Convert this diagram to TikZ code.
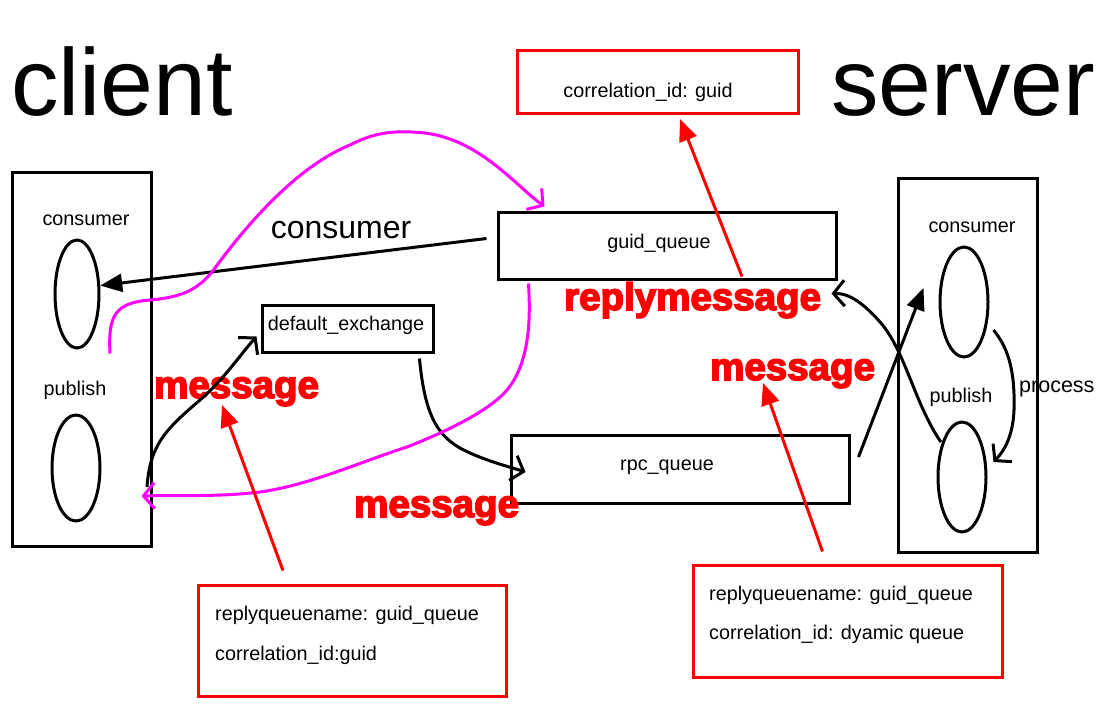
\documentclass[tikz,border=0pt]{standalone}
\usepackage{fontspec}
\setmainfont{Liberation Sans}
\newfontfamily\heavy{Liberation Sans Bold}[FakeBold=4]
\usetikzlibrary{shapes.geometric,arrows.meta}
\definecolor{mag}{HTML}{FF00FF}
\definecolor{rd}{HTML}{FF0000}
\begin{document}
\begin{tikzpicture}[x=1pt,y=-1pt,
  blk/.style={draw=black,line width=3pt},
  rbox/.style={draw=rd,line width=3pt,inner sep=0pt},
  kbox/.style={draw=black,line width=3pt,inner sep=0pt},
  oval/.style={ellipse,draw=black,line width=3pt,inner sep=0pt},
  small/.style={font=\fontsize{19.8}{23}\selectfont,inner sep=0pt},
  big/.style={font=\fontsize{95}{100}\selectfont,inner sep=0pt,anchor=base west},
  redlbl/.style={font=\heavy\fontsize{38.5}{40}\selectfont,text=rd,inner sep=0pt,anchor=base west},
  kline/.style={draw=black,line width=3pt},
  mline/.style={draw=mag,line width=3pt},
  rline/.style={draw=rd,line width=3pt},
  filltip/.style={-{Triangle[length=22pt,width=18pt]}},
  barb/.style={-{Straight Barb[length=11pt,width=26pt]}},
]
\useasboundingbox (0,0) rectangle (1110,704);
\fill[white] (0,0) rectangle (1110,704);

% titles
\node[big] (tclient) at (11,115) {client};
\node[big] (tserver) at (831,115) {server};

% boxes
\node[kbox,minimum width=139pt,minimum height=374pt] (client) at (81.5,359) {};
\node[kbox,minimum width=139pt,minimum height=374pt] (server) at (967.5,365) {};
\node[oval,minimum width=44pt,minimum height=108pt] (cc) at (77,294) {};
\node[oval,minimum width=48pt,minimum height=106pt] (cp) at (76,468) {};
\node[oval,minimum width=48pt,minimum height=110pt] (sc) at (964,302) {};
\node[oval,minimum width=48pt,minimum height=110pt] (sp) at (962,477) {};
\node[kbox,minimum width=338pt,minimum height=67pt] (gq) at (667,245.5) {};
\node[kbox,minimum width=171pt,minimum height=47pt] (de) at (347.5,328.5) {};
\node[kbox,minimum width=338pt,minimum height=68pt] (rpc) at (680,469) {};
\node[rbox,minimum width=281pt,minimum height=63pt] (corr) at (657.5,81.5) {};
\node[rbox,minimum width=308pt,minimum height=111pt] (bl) at (352,640.5) {};
\node[rbox,minimum width=309pt,minimum height=112pt] (br) at (847.5,621) {};

% small texts
\node[small,anchor=base] (tcc) at (86,225) {consumer};
\node[small,anchor=base] (tcp) at (75,395) {publish};
\node[small,anchor=base] (tsc) at (972,232) {consumer};
\node[small,anchor=base] (tsp) at (961,402) {publish};
\node[small,anchor=base west,font=\fontsize{21.5}{24}\selectfont] (tproc) at (1019,392) {process};
\node[small,anchor=base] (tgq) at (659,248) {guid\_queue};
\node[small,anchor=base] (trpc) at (667,470) {rpc\_queue};
\node[small,anchor=base] (tde) at (346,330) {default\_exchange};
\node[small,anchor=base] (tcorr) at (648,97) {correlation\_id: guid};
\node[small,anchor=base west] (tbl1) at (215,620) {replyqueuename: guid\_queue};
\node[small,anchor=base west] (tbl2) at (215,660) {correlation\_id:guid};
\node[small,anchor=base west] (tbr1) at (709,600) {replyqueuename: guid\_queue};
\node[small,anchor=base west] (tbr2) at (709,639) {correlation\_id: dyamic queue};
\node[small,anchor=base,font=\fontsize{32}{34}\selectfont] (tcons) at (341,238) {consumer};

% red labels
\node[redlbl] (msg1) at (154,398) {message};
\node[redlbl] (msg2) at (354,517) {message};
\node[redlbl] (msg3) at (710,380) {message};
\node[redlbl] (rmsg) at (564,310) {replymessage};

% coordinates
\coordinate (pubout) at (147,487);
\coordinate (m1tip) at (222,405);
\coordinate (m3tip) at (763,383);
\coordinate (ctip) at (680,119);

% black connectors
\draw[kline,filltip] ([shift={(-10,-7)}]gq.west) -- (cc.20);
\draw[kline,filltip] ([shift={(8,-12)}]rpc.east) -- ([shift={(-15,-14)}]sc.west);
\draw[kline,barb] (pubout) .. controls (150,445) and (165,430) .. (200,400)
   .. controls (225,378) and (240,355) .. ([shift={(-4,8)}]de.west);
\draw[kline,barb] ([shift={(-15,5)}]de.south east) .. controls (425,420) and (440,440) .. (470,453)
   .. controls (490,462) and (510,467) .. ([shift={(16,3)}]rpc.west);
\draw[kline,barb] ([shift={(-3,5)}]sp.north west) .. controls (915,405) and (905,350) .. (880,322)
   .. controls (865,305) and (850,293) .. ([shift={(-6,13)}]gq.south east);
\draw[kline,barb] ([shift={(4,28)}]sc.east) .. controls (1010,350) and (1015,375) .. (1014,410)
   .. controls (1013,435) and (1005,450) .. ([shift={(6,-15)}]sp.east);

% magenta connectors
\draw[mline,barb] ([shift={(33,4)}]cc.south) .. controls (108,315) and (115,303) .. (150,300)
   .. controls (185,297) and (200,288) .. (215,268)
   .. controls (250,220) and (300,165) .. (350,145)
   .. controls (375,132) and (395,130) .. (425,133)
   .. controls (480,140) and (515,185) .. ([shift={(48,-4)}]gq.north west);
\draw[mline,barb] ([shift={(32,3)}]gq.south west) .. controls (530,310) and (532,360) .. (507,390)
   .. controls (490,410) and (450,430) .. (407,447)
   .. controls (360,462) and (310,485) .. (260,492)
   .. controls (220,497) and (180,495) .. ([shift={(40,28)}]cp.east);

% red connectors
\draw[rline,filltip] ([shift={(-69,-13)}]bl.north) -- (m1tip);
\draw[rline,filltip] ([shift={(-25,-12)}]br.north) -- (m3tip);
\draw[rline,filltip] ([shift={(75,66)}]gq.north) -- (ctip);
\end{tikzpicture}
\end{document}
